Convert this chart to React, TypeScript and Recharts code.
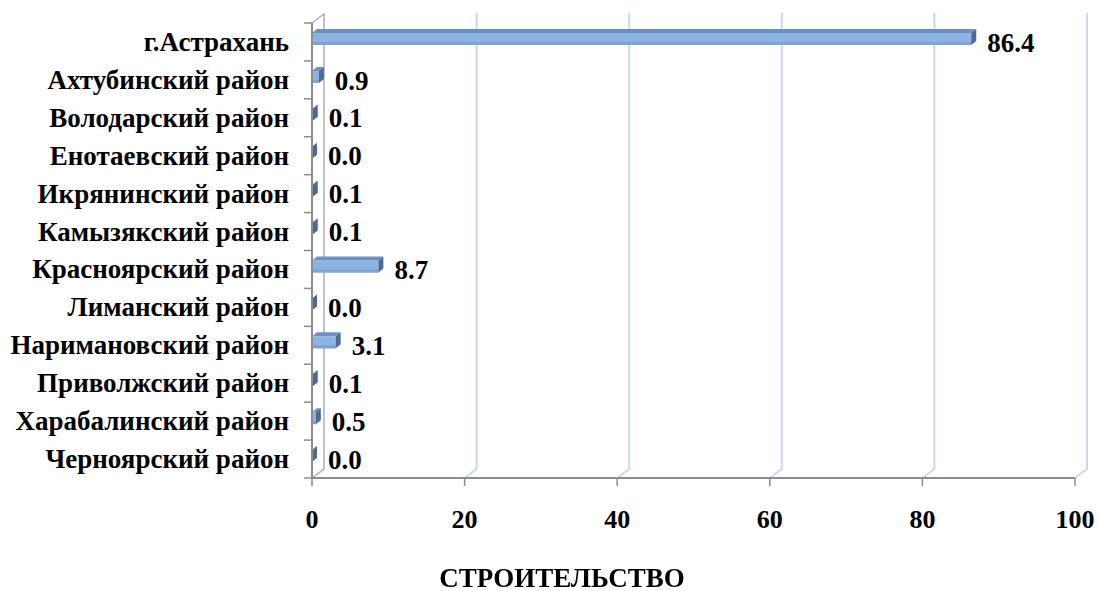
import { BarChart, Bar, XAxis, YAxis, CartesianGrid, LabelList } from "recharts";

const districts = [
  "г.Астрахань",
  "Ахтубинский район",
  "Володарский район",
  "Енотаевский район",
  "Икрянинский район",
  "Камызякский район",
  "Красноярский район",
  "Лиманский район",
  "Наримановский район",
  "Приволжский район",
  "Харабалинский район",
  "Черноярский район",
];
const shares = [86.4, 0.9, 0.1, 0.0, 0.1, 0.1, 8.7, 0.0, 3.1, 0.1, 0.5, 0.0];
const xTicks = [0, 20, 40, 60, 80, 100];

const data = districts.map((name, i) => ({ name, value: shares[i] }));

const W = 1098;
const H = 591;
const XAXIS_H = 30;
const M = { top: 23, right: 23, bottom: 83, left: 0 };
const YAXIS_W = 312;
const BAND = (H - M.top - M.bottom - XAXIS_H) / districts.length;
const FONT = "'Liberation Serif', 'Times New Roman', serif";

function Bar3D(props: any) {
  const { x, y, width, height } = props;
  const w = Math.max(0, width || 0);
  const dx = 5;
  const dy = 4;
  const y0 = y - 5;
  const h = height;
  return (
    <g>
      <rect x={x} y={y0 + dy} width={w} height={h - dy} fill="#8db3e2" />
      <rect x={x} y={y0 + h - 3} width={w} height={3} fill="#7fa3d3" />
      <polygon
        points={`${x},${y0 + dy} ${x + dx},${y0} ${x + w + dx},${y0} ${x + w},${y0 + dy}`}
        fill="#6e8fbf"
      />
      <polygon
        points={`${x + w},${y0 + dy} ${x + w + dx},${y0} ${x + w + dx},${y0 + h - dy} ${x + w},${y0 + h}`}
        fill="#4d6a96"
      />
    </g>
  );
}

function GridLine(props: any) {
  const { x1, y1, y2 } = props;
  const off = 12;
  const isLeft = Math.abs(x1 - YAXIS_W) < 1;
  if (isLeft) {
    return (
      <path
        key={props.key}
        d={`M${x1},${y2} L${x1 + off},${y2 - 9} L${x1 + off},${y1 - 9} L${x1},${y1}`}
        stroke="#b0b0b0"
        strokeWidth={1.5}
        fill="none"
      />
    );
  }
  return (
    <path
      key={props.key}
      d={`M${x1},${y2} L${x1 + off},${y2 - 9} L${x1 + off},${y1 - 10}`}
      stroke="#c6d9f1"
      strokeWidth={2}
      fill="none"
    />
  );
}

function CategoryTick(props: any) {
  const { x, y, payload, index } = props;
  const ax = YAXIS_W;
  return (
    <g>
      <line x1={ax - 8} x2={ax} y1={y + BAND / 2} y2={y + BAND / 2} stroke="#8c8c8c" strokeWidth={1.5} />
      {index === 0 && (
        <line x1={ax - 8} x2={ax} y1={y - BAND / 2} y2={y - BAND / 2} stroke="#8c8c8c" strokeWidth={1.5} />
      )}
      <text
        x={x}
        y={y}
        dy={9}
        textAnchor="end"
        fontFamily={FONT}
        fontWeight="bold"
        fontSize={27}
        fill="#000"
      >
        {payload.value}
      </text>
    </g>
  );
}

export default function App() {
  return (
    <div style={{ position: "fixed", left: 0, top: 0, width: W, height: H, background: "#fff" }}>
      <BarChart width={W} height={H} data={data} layout="vertical" margin={M} barSize={16}>
        <CartesianGrid horizontal={false} vertical={GridLine as any} />
        <XAxis
          type="number"
          domain={[0, 100]}
          ticks={xTicks}
          interval={0}
          height={XAXIS_H}
          axisLine={{ stroke: "#8c8c8c", strokeWidth: 2 }}
          tickLine={{ stroke: "#8c8c8c", strokeWidth: 1.5 }}
          tickSize={8}
          tickMargin={24}
          tick={{ fontFamily: FONT, fontWeight: "bold", fontSize: 26, fill: "#000" }}
        />
        <YAxis
          type="category"
          dataKey="name"
          width={YAXIS_W}
          interval={0}
          axisLine={{ stroke: "#8c8c8c", strokeWidth: 2 }}
          tickLine={false}
          tickSize={8}
          tickMargin={15}
          tick={<CategoryTick />}
        />
        <Bar dataKey="value" shape={<Bar3D />} isAnimationActive={false}>
          <LabelList
            dataKey="value"
            position="right"
            offset={16}
            formatter={(v: any) => Number(v).toFixed(1)}
            style={{ fontFamily: FONT, fontWeight: "bold", fontSize: 27, fill: "#000" }}
          />
        </Bar>
      </BarChart>
      <div
        style={{
          position: "absolute",
          left: 0,
          width: 1124,
          top: 563,
          textAlign: "center",
          fontFamily: FONT,
          fontWeight: "bold",
          fontSize: 27,
          lineHeight: "30px",
        }}
      >
        СТРОИТЕЛЬСТВО
      </div>
    </div>
  );
}
